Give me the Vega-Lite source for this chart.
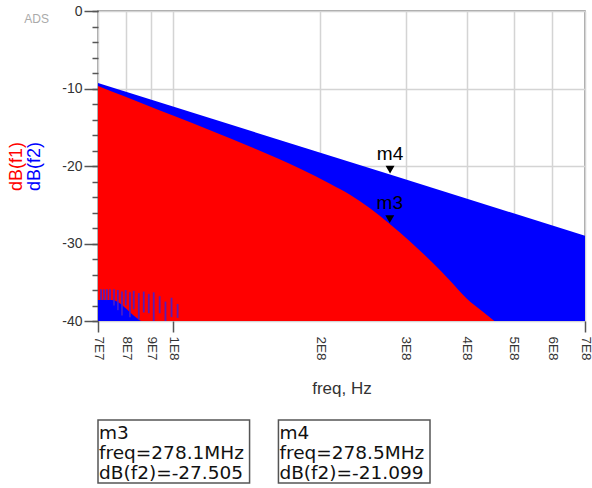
{
  "$schema": "https://vega.github.io/schema/vega-lite/v6.json",
  "background": "white",
  "padding": {"left": 6, "top": 3, "right": 0, "bottom": 0},
  "config": {
    "font": "Liberation Sans",
    "view": {"stroke": "#888888", "strokeWidth": 1.5}
  },
  "datasets": {
    "f2": [
      {"freq": 70000000, "db": -9.3},
      {"freq": 278500000, "db": -21.1},
      {"freq": 700000000, "db": -29.0}
    ],
    "f1": [
      {"freq": 70000000, "hi": -9.68, "lo": -37.3},
      {"freq": 74700000, "hi": -10.39, "lo": -37.3},
      {"freq": 84100000, "hi": -11.64, "lo": -39.6},
      {"freq": 86100000, "hi": -11.9, "lo": -40},
      {"freq": 100400000, "hi": -13.55, "lo": -40},
      {"freq": 119600000, "hi": -15.46, "lo": -40},
      {"freq": 144300000, "hi": -17.55, "lo": -40},
      {"freq": 182600000, "hi": -20.39, "lo": -40},
      {"freq": 210100000, "hi": -22.32, "lo": -40},
      {"freq": 230900000, "hi": -23.74, "lo": -40},
      {"freq": 253700000, "hi": -25.48, "lo": -40},
      {"freq": 278100000, "hi": -27.48, "lo": -40},
      {"freq": 306100000, "hi": -29.74, "lo": -40},
      {"freq": 341000000, "hi": -32.52, "lo": -40},
      {"freq": 369500000, "hi": -34.77, "lo": -40},
      {"freq": 400000000, "hi": -37.1, "lo": -40},
      {"freq": 430000000, "hi": -38.71, "lo": -40},
      {"freq": 456000000, "hi": -40, "lo": -40}
    ],
    "stripes": [
      {"freq": 71000000, "top": -35.9, "bottom": -37.3},
      {"freq": 72000000, "top": -35.9, "bottom": -37.3},
      {"freq": 73000000, "top": -35.9, "bottom": -37.3},
      {"freq": 74100000, "top": -35.9, "bottom": -37.3},
      {"freq": 75500000, "top": -35.9, "bottom": -38.0},
      {"freq": 76900000, "top": -36.0, "bottom": -38.6},
      {"freq": 78400000, "top": -36.2, "bottom": -39.3},
      {"freq": 79800000, "top": -36.0, "bottom": -38.0},
      {"freq": 81400000, "top": -36.3, "bottom": -39.5},
      {"freq": 82900000, "top": -36.1, "bottom": -38.5},
      {"freq": 84900000, "top": -36.4, "bottom": -39.8},
      {"freq": 86900000, "top": -36.2, "bottom": -38.9},
      {"freq": 89000000, "top": -36.5, "bottom": -39.0},
      {"freq": 91100000, "top": -36.3, "bottom": -40},
      {"freq": 93700000, "top": -36.8, "bottom": -39.0},
      {"freq": 96300000, "top": -37.5, "bottom": -40},
      {"freq": 99100000, "top": -37.0, "bottom": -39.5},
      {"freq": 102000000, "top": -37.8, "bottom": -39.6}
    ],
    "markers": [
      {"marker": "m3", "freq": 278100000, "db": -27.505},
      {"marker": "m4", "freq": 278500000, "db": -21.099}
    ],
    "boxes": [
      {"marker": "m3", "freq": "278.1MHz", "db": "-27.505"},
      {"marker": "m4", "freq": "278.5MHz", "db": "-21.099"}
    ]
  },
  "spacing": 22,
  "vconcat": [
    {
      "width": 487,
      "height": 310,
      "title": {
        "text": "ADS",
        "anchor": "start",
        "frame": "bounds",
        "fontSize": 12,
        "fontWeight": "normal",
        "color": "#aaaaaa",
        "offset": 0,
        "dx": 17,
        "dy": 22
      },
      "resolve": {"axis": {"y": "independent"}},
      "layer": [
        {
          "data": {"name": "f2"},
          "mark": {"type": "area", "color": "#0000ff", "interpolate": "linear"},
          "encoding": {
            "x": {
              "field": "freq",
              "type": "quantitative",
              "scale": {"type": "log", "domain": [70000000, 700000000], "nice": false},
              "axis": {
                "values": [70000000, 80000000, 90000000, 100000000, 200000000, 300000000, 400000000, 500000000, 600000000, 700000000],
                "labelExpr": "replace(format(datum.value, '.0e'), 'e+', 'E')",
                "labelAngle": 90,
                "labelFontSize": 13.5,
                "labelColor": "#333333",
                "labelPadding": 4,
                "labelFlush": false,
                "labelOverlap": false,
                "tickSize": 11,
                "tickWidth": 1.5,
                "tickColor": "#555555",
                "tickOpacity": {"condition": {"test": "datum.value == 70000000 || datum.value == 100000000 || datum.value == 700000000", "value": 1}, "value": 0},
                "domain": false,
                "grid": true,
                "gridColor": "#d4d4d4",
                "gridWidth": 1.5,
                "title": "freq, Hz",
                "titleFontSize": 17,
                "titleFontWeight": "normal",
                "titleColor": "#333333",
                "titlePadding": 20
              }
            },
            "y": {
              "field": "db",
              "type": "quantitative",
              "scale": {"domain": [-40, 0], "nice": false},
              "axis": {
                "orient": "left",
                "values": [-40, -30, -20, -10, 0],
                "labelExpr": "'' + datum.value",
                "labelFontSize": 14,
                "labelColor": "#333333",
                "labelPadding": 2,
                "tickSize": 14,
                "tickWidth": 1.5,
                "tickColor": "#555555",
                "domain": false,
                "grid": true,
                "gridColor": "#d4d4d4",
                "gridWidth": 1.5,
                "title": "dB(f2)",
                "titleColor": "#0000ff",
                "titleFontSize": 18,
                "titleFontWeight": "normal",
                "titlePadding": 18
              }
            },
            "y2": {"datum": -40}
          }
        },
        {
          "data": {"name": "f1"},
          "mark": {"type": "area", "color": "#ff0000", "interpolate": "monotone"},
          "encoding": {
            "x": {"field": "freq", "type": "quantitative"},
            "y": {
              "field": "hi",
              "type": "quantitative",
              "axis": {
                "orient": "left",
                "values": [-40, -38, -36, -34, -32, -30, -28, -26, -24, -22, -20, -18, -16, -14, -12, -10, -8, -6, -4, -2, 0],
                "labels": false,
                "tickSize": 6,
                "tickWidth": 1.5,
                "tickColor": "#555555",
                "domain": false,
                "grid": false,
                "minExtent": 0,
                "title": "dB(f1)",
                "titleColor": "#ff0000",
                "titleFontSize": 18,
                "titleFontWeight": "normal",
                "titlePadding": 66
              }
            },
            "y2": {"field": "lo"}
          }
        },
        {
          "data": {"name": "stripes"},
          "mark": {"type": "rule", "color": "#4a1ec8", "strokeWidth": 1.8, "opacity": 0.9},
          "encoding": {
            "x": {"field": "freq", "type": "quantitative"},
            "y": {"field": "top", "type": "quantitative", "axis": null},
            "y2": {"field": "bottom"}
          }
        },
        {
          "data": {"name": "markers"},
          "mark": {"type": "point", "shape": "triangle-down", "filled": true, "color": "#000000", "size": 80, "opacity": 1, "yOffset": -5},
          "encoding": {
            "x": {"field": "freq", "type": "quantitative"},
            "y": {"field": "db", "type": "quantitative", "axis": null}
          }
        },
        {
          "data": {"name": "markers"},
          "mark": {"type": "text", "fontSize": 19, "color": "#000000", "baseline": "alphabetic", "align": "center", "dy": -15},
          "encoding": {
            "x": {"field": "freq", "type": "quantitative"},
            "y": {"field": "db", "type": "quantitative", "axis": null},
            "text": {"field": "marker"}
          }
        }
      ]
    },
    {
      "width": 332,
      "height": 63,
      "view": {"stroke": null},
      "data": {"name": "boxes"},
      "transform": [
        {"calculate": "[datum.marker, 'freq=' + datum.freq, 'dB(f2)=' + datum.db]", "as": "txt"}
      ],
      "layer": [
        {
          "mark": {"type": "rect", "filled": false, "stroke": "#555555", "strokeWidth": 1.5},
          "encoding": {
            "x": {"field": "marker", "type": "nominal", "axis": null, "scale": {"paddingInner": 0.16, "paddingOuter": 0}}
          }
        },
        {
          "mark": {"type": "text", "align": "left", "baseline": "middle", "dx": 1, "dy": -19, "font": "DejaVu Sans", "fontSize": 18.5, "lineHeight": 20, "color": "#111111"},
          "encoding": {
            "x": {"field": "marker", "type": "nominal", "axis": null, "bandPosition": 0},
            "text": {"field": "txt"}
          }
        }
      ]
    }
  ]
}
